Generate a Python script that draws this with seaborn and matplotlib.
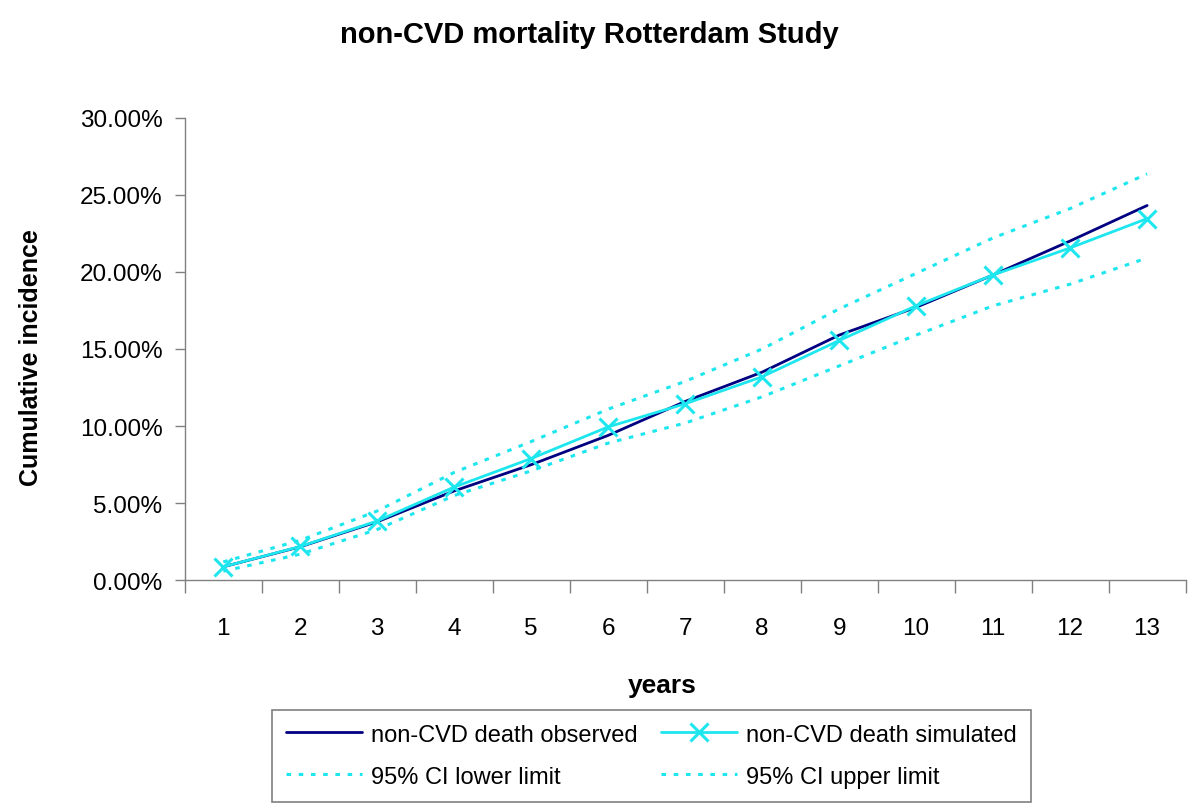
import matplotlib
matplotlib.use("Agg")
import matplotlib.pyplot as plt
import seaborn as sns
import pandas as pd
from matplotlib.ticker import FuncFormatter, FixedLocator

sns.set_style("white")
plt.rcParams['font.family'] = ['Liberation Sans', 'DejaVu Sans']
plt.rcParams['text.color'] = 'black'
plt.rcParams['xtick.color'] = 'black'
plt.rcParams['ytick.color'] = 'black'
plt.rcParams['axes.labelcolor'] = 'black'

years = list(range(1, 14))
observed = [0.88, 2.18, 3.8, 5.8, 7.5, 9.4, 11.6, 13.5, 15.9, 17.7, 19.8, 22.0, 24.3]
simulated = [0.88, 2.2, 3.85, 6.05, 7.9, 9.95, 11.45, 13.2, 15.55, 17.8, 19.8, 21.55, 23.45]
ci_lower = [0.6, 1.7, 3.3, 5.5, 7.1, 8.9, 10.2, 11.9, 13.9, 15.9, 17.8, 19.2, 20.9]
ci_upper = [1.2, 2.6, 4.5, 7.0, 9.0, 11.1, 12.9, 15.0, 17.6, 19.9, 22.2, 24.1, 26.35]

df = pd.DataFrame({"years": years, "observed": observed, "simulated": simulated,
                   "lower": ci_lower, "upper": ci_upper})

cyan = "#1EE6EE"
navy = "#000080"

fig = plt.figure(figsize=(12, 8.12), dpi=100)
ax = fig.add_axes([0.154, 0.284, 0.834, 0.57])

sns.lineplot(data=df, x="years", y="observed", color=navy, lw=2,
             label="non-CVD death observed", ax=ax)
sns.lineplot(data=df, x="years", y="simulated", color=cyan, lw=2, marker="x",
             markersize=13, markeredgewidth=2.2, markeredgecolor=cyan,
             label="non-CVD death simulated", ax=ax)
sns.lineplot(data=df, x="years", y="lower", color=cyan, lw=2.2,
             linestyle=(0, (1.5, 2.5)), label="95% CI lower limit", ax=ax)
sns.lineplot(data=df, x="years", y="upper", color=cyan, lw=2.2,
             linestyle=(0, (1.5, 2.5)), label="95% CI upper limit", ax=ax)

ax.set_xlim(0.5, 13.5)
ax.set_ylim(0, 30)
ax.set_yticks([0, 5, 10, 15, 20, 25, 30])
ax.yaxis.set_major_formatter(FuncFormatter(lambda v, p: f"{v:.2f}%"))
ax.set_xticks(years)
ax.set_xticklabels([str(y) for y in years])
ax.xaxis.set_minor_locator(FixedLocator([y + 0.5 for y in range(0, 14)]))
ax.tick_params(axis="x", which="major", length=0, labelsize=17.5, pad=26)
ax.tick_params(axis="x", which="minor", length=9, width=1, color="#808080", direction="out")
ax.tick_params(axis="y", length=7, width=1, color="#808080", direction="out",
               labelsize=17.5, pad=9, left=True)
ax.tick_params(axis="x", bottom=True, which="both")

for s in ["top", "right"]:
    ax.spines[s].set_visible(False)
for s in ["left", "bottom"]:
    ax.spines[s].set_color("#808080")
    ax.spines[s].set_linewidth(1)

ax.set_xlabel("years", fontsize=19, fontweight="bold")
ax.xaxis.set_label_coords(0.477, -0.2)
ax.set_ylabel("Cumulative incidence", fontsize=18, fontweight="bold")
ax.yaxis.set_label_coords(-0.142, 0.483)
fig.text(0.491, 0.947, "non-CVD mortality Rotterdam Study", fontsize=21,
         fontweight="bold", ha="center", va="baseline")

handles, labels = ax.get_legend_handles_labels()
order = [0, 2, 1, 3]
leg = ax.legend([handles[i] for i in order], [labels[i] for i in order],
                loc="upper center", bbox_to_anchor=(0.4665, -0.279), ncol=2,
                fontsize=17, frameon=True, fancybox=False, handlelength=3.2,
                columnspacing=1.0, borderpad=0.6, labelspacing=0.85, handletextpad=0.4,
                borderaxespad=0)
leg.get_frame().set_edgecolor("#606060")
leg.get_frame().set_linewidth(1.2)

fig.savefig("out.png", dpi=100, facecolor="white")
